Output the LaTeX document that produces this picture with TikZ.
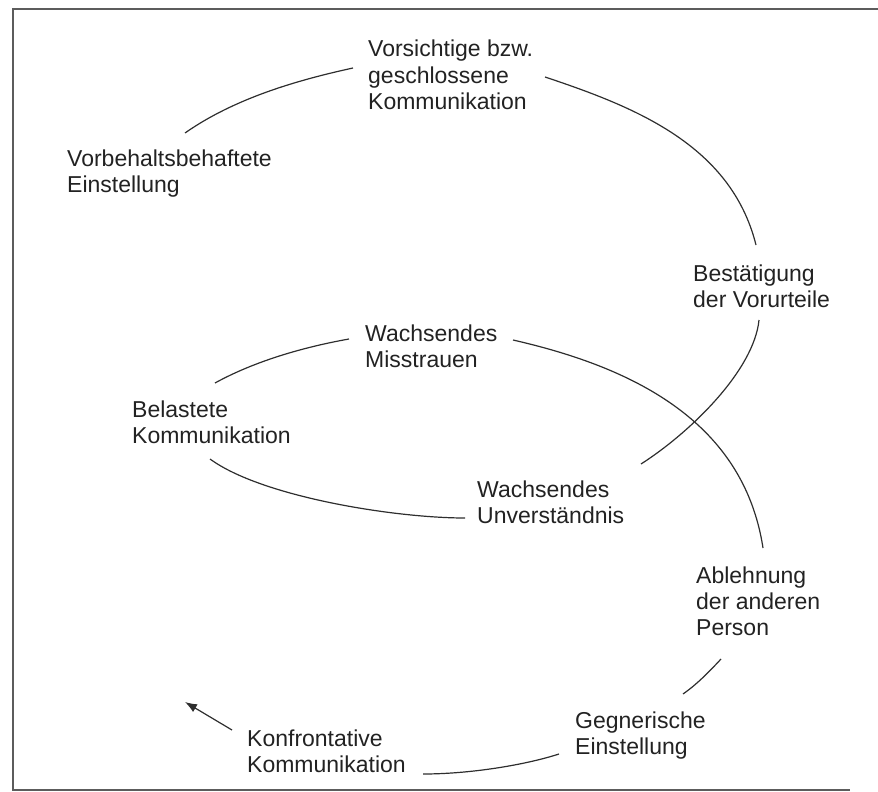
\documentclass[tikz,border=0pt]{standalone}
\usepackage{fontspec}
\setmainfont{Liberation Sans}
\usetikzlibrary{arrows.meta}
\definecolor{txt}{HTML}{222222}
\definecolor{arc}{HTML}{2E2E2E}
\definecolor{frame}{HTML}{5C5C5C}
\tikzset{
  lbl/.style={anchor=base west, align=left, inner sep=0pt, text=txt,
    font=\fontsize{23}{26}\selectfont},
  arcline/.style={draw=arc, line width=1.2pt},
  frameline/.style={draw=frame, line width=1.7pt}
}
\begin{document}
\begin{tikzpicture}[x=1pt,y=1pt]
\useasboundingbox (0,0) rectangle (878,-792);
% frame
\coordinate (ftr) at (878,-9);
\coordinate (ftl) at (13,-9);
\coordinate (fbl) at (13,-790);
\coordinate (fbr) at (850,-790);
\draw[frameline] (ftr) -- (ftl) -- (fbl) -- (fbr);
% labels (anchored at the baseline of their last line)
\node[lbl] (vors) at (368,-109) {Vorsichtige bzw.\\geschlossene\\Kommunikation};
\node[lbl] (vorb) at (67,-192) {Vorbehaltsbehaftete\\Einstellung};
\node[lbl] (best) at (693,-307) {Bestätigung\\der Vorurteile};
\node[lbl] (miss) at (365,-367) {Wachsendes\\Misstrauen};
\node[lbl] (bela) at (132,-443) {Belastete\\Kommunikation};
\node[lbl] (unv) at (477,-523) {Wachsendes\\Unverständnis};
\node[lbl] (abl) at (696,-635) {Ablehnung\\der anderen\\Person};
\node[lbl] (gegn) at (575,-754) {Gegnerische\\Einstellung};
\node[lbl] (konf) at (247,-772) {Konfrontative\\Kommunikation};
% arc end points
\coordinate (a0) at (185,-133);
\coordinate (a1) at (353,-68);
\coordinate (b0) at (545,-77);
\coordinate (b1) at (756,-245);
\coordinate (c0) at (759,-320);
\coordinate (c1) at (641,-464);
\coordinate (d0) at (513,-340);
\coordinate (d1) at (763,-548);
\coordinate (e0) at (349,-339);
\coordinate (e1) at (215,-383);
\coordinate (f0) at (210,-459);
\coordinate (f1) at (465,-518);
\coordinate (h0) at (721,-659);
\coordinate (h1) at (683,-694);
\coordinate (i0) at (559,-754);
\coordinate (i1) at (423,-774);
\coordinate (p0) at (232,-730);
\coordinate (p1) at (185,-702);
% arcs
\draw[arcline] (a0) .. controls (235,-98) and (298,-80) .. (a1);
\draw[arcline] (b0) .. controls (635,-107) and (731,-145) .. (b1);
\draw[arcline] (c0) .. controls (754,-370) and (691,-432) .. (c1);
\draw[arcline] (d0) .. controls (627,-366) and (743,-418) .. (d1);
\draw[arcline] (e0) .. controls (304,-347) and (255,-361) .. (e1);
\draw[arcline] (f0) .. controls (262,-497) and (395,-518) .. (f1);
\draw[arcline] (h0) .. controls (708,-673) and (696,-685) .. (h1);
\draw[arcline] (i0) .. controls (525,-765) and (470,-774) .. (i1);
\draw[arcline, -{Latex[length=12pt,width=9pt]}] (p0) -- (p1);
\end{tikzpicture}
\end{document}
